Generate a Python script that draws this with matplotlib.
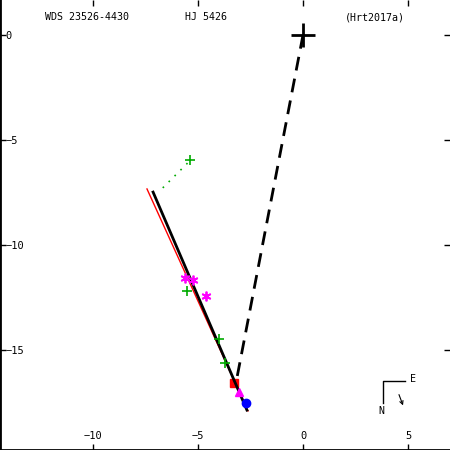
import matplotlib
matplotlib.use("Agg")
import matplotlib.pyplot as plt

# orbit (highly inclined, seen almost edge-on) and reference lines
orbit_x = [-7.14, -2.67]
orbit_y = [-7.48, -17.86]
red_x = [-7.43, -2.62]
red_y = [-7.33, -17.90]
node_x = [0.0, -3.2]
node_y = [0.0, -16.6]

# observations
mag_x = [-5.62, -5.25, -4.62]
mag_y = [-11.59, -11.67, -12.43]
grn_x = [-5.38, -5.51, -4.00, -3.71]
grn_y = [-5.95, -12.17, -14.48, -15.63]
oc_x = [-5.5, -6.9]
oc_y = [-6.1, -7.5]
red_pt = (-3.27, -16.56)
mtri_pt = (-3.03, -16.98)
blue_pt = (-2.71, -17.51)

xticks = [-10, -5, 0, 5]
yticks = [0, -5, -10, -15]

fig = plt.figure(figsize=(4.5, 4.5), dpi=100)
ax = fig.add_axes([0, 0, 1, 1])
ax.set_xlim(-14.43, 7.0)
ax.set_ylim(-19.76, 1.667)

ax.plot(node_x, node_y, color="black", lw=2, ls=(0, (5, 3)), zorder=2)
ax.plot(red_x, red_y, color="red", lw=1, zorder=3)
ax.plot(orbit_x, orbit_y, color="black", lw=2, zorder=4)
ax.plot(oc_x, oc_y, color="#00aa00", lw=1.2, ls=(0, (1, 4)), zorder=3)
ax.plot(0, 0, marker="+", ms=17, mew=2, color="black", zorder=5)

ax.plot(grn_x, grn_y, ls="none", marker="+", ms=7, mew=1.2, color="#00aa00", zorder=5)
ax.plot(mag_x, mag_y, ls="none", marker=(6, 2, 0), ms=7, mew=1.3, color="magenta", zorder=5)
ax.plot(*red_pt, marker="s", ms=6, color="red", zorder=3)
ax.plot(*mtri_pt, marker="^", ms=6, color="magenta", zorder=5)
ax.plot(*blue_pt, marker="o", ms=6, color="blue", zorder=6)

ax.set_xticks(xticks)
ax.set_yticks(yticks)
ax.set_xticklabels([str(t).replace("-", "\u2212") for t in xticks])
ax.set_yticklabels([str(t).replace("-", "\u2212") for t in yticks])
ax.tick_params(direction="in", length=4, width=1, top=True, right=True,
               labelsize=7.5, colors="black")
ax.tick_params(axis="x", pad=-14)
ax.tick_params(axis="y", pad=-4)
for lb in ax.get_yticklabels():
    lb.set_ha("left")
for lb in ax.get_xticklabels() + ax.get_yticklabels():
    lb.set_family("DejaVu Sans Mono")
for s in ["top", "right"]:
    ax.spines[s].set_visible(False)
for s in ["left", "bottom"]:
    ax.spines[s].set_linewidth(2)

mono = dict(family="DejaVu Sans Mono", fontsize=7.2, transform=ax.transAxes, va="center")
ax.text(45 / 450, 1 - 17 / 450, "WDS 23526-4430", **mono)
ax.text(185 / 450, 1 - 17 / 450, "HJ 5426", **mono)
ax.text(345 / 450, 1 - 17 / 450, "(Hrt2017a)", **mono)

# compass
ax.plot([405 / 450, 383 / 450, 383 / 450], [1 - 381 / 450, 1 - 381 / 450, 1 - 403 / 450],
        color="black", lw=1, transform=ax.transAxes)
ax.text(410 / 450, 1 - 379 / 450, "E", **mono)
ax.text(378 / 450, 1 - 411 / 450, "N", **mono)
ax.annotate("", xy=(404 / 450, 1 - 408 / 450), xytext=(398 / 450, 1 - 392 / 450),
            xycoords="axes fraction", textcoords="axes fraction",
            arrowprops=dict(arrowstyle="->", lw=0.8, color="black", mutation_scale=6))

fig.savefig("out.png", dpi=100)
